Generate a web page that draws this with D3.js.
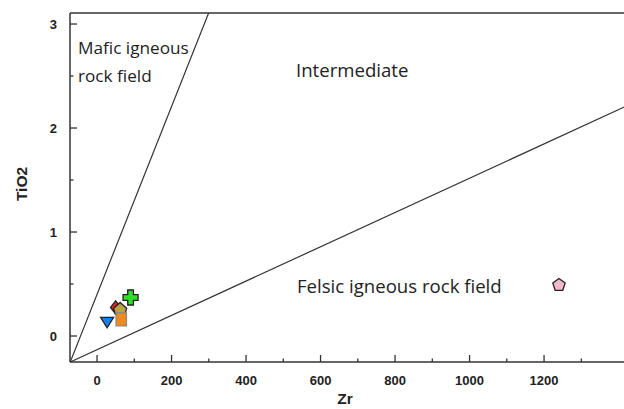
<!DOCTYPE html>
<html>
<head>
<meta charset="utf-8">
<script src="https://cdn.jsdelivr.net/npm/d3@7"></script>
<style>
    body { margin: 0; background: #fff; }
    svg { display: block; }
    .tick-label { font-family: "Liberation Sans", Arial, sans-serif; font-weight: bold; font-size: 13px; fill: #222; }
    .field-label { font-family: "Open Sans", Lato, sans-serif; font-size: 18.6px; fill: #222; }
    .field-label.small { font-size: 17.2px; }
    .axis-title { font-family: "Liberation Sans", Arial, sans-serif; font-weight: bold; font-size: 15.5px; fill: #222; }
</style>
</head>
<body>
<div id="chart"></div>
<script>
// Zr (ppm) vs TiO2 (wt%) samples
const sampleNames = ['S1', 'S2', 'S3', 'S4', 'S5', 'S6'];
const zrValues = [27, 50, 62, 65, 90, 1240];
const tio2Values = [0.135, 0.275, 0.26, 0.16, 0.37, 0.49];
const sampleShapes = ['triDown', 'diamond', 'house', 'square', 'cross', 'pentagon'];
const sampleColors = ['#1f7fe0', '#e0261e', '#b8a445', '#f08a1c', '#2fe02a', '#f4b8cc'];

// field boundary lines, [Zr, TiO2] end points
const mafLine = [[-72, -0.25], [300, 3.11]];
const felLine = [[-72, -0.25], [1420, 2.21]];

const xTicks = [0, 200, 400, 600, 800, 1000, 1200];
const xMinorTicks = [100, 300, 500, 700, 900, 1100, 1300];
const yTicks = [0, 1, 2, 3];
const yMinorTicks = [0.5, 1.5, 2.5];

const width = 624, height = 409;
const margin = { top: 13, right: -2, bottom: 47, left: 70 };

const svg = d3.select('#chart').append('svg')
    .attr('width', width)
    .attr('height', height);

const x = d3.scaleLinear()
    .domain([-72.6, 1420])
    .range([margin.left, width - margin.right]);
const y = d3.scaleLinear()
    .domain([-0.25, 3.106])
    .range([height - margin.bottom, margin.top]);

svg.append('defs').append('clipPath').attr('id', 'plot-clip')
    .append('rect')
    .attr('x', margin.left).attr('y', margin.top)
    .attr('width', width - margin.right - margin.left)
    .attr('height', height - margin.bottom - margin.top);

// frame: left, top, bottom
const axisColor = '#333';
svg.append('line')
    .attr('x1', x.range()[0]).attr('x2', x.range()[1])
    .attr('y1', y.range()[0]).attr('y2', y.range()[0])
    .attr('stroke', axisColor).attr('stroke-width', 1.5);
svg.append('line')
    .attr('x1', x.range()[0]).attr('x2', x.range()[1])
    .attr('y1', y.range()[1]).attr('y2', y.range()[1])
    .attr('stroke', axisColor).attr('stroke-width', 1.5);
svg.append('line')
    .attr('x1', x.range()[0]).attr('x2', x.range()[0])
    .attr('y1', y.range()[0]).attr('y2', y.range()[1])
    .attr('stroke', axisColor).attr('stroke-width', 1.5);

// x ticks (inward)
const xAxisY = y.range()[0];
svg.append('g').selectAll('line')
    .data(xTicks).join('line')
    .attr('x1', d => x(d)).attr('x2', d => x(d))
    .attr('y1', xAxisY).attr('y2', xAxisY - 7)
    .attr('stroke', axisColor).attr('stroke-width', 1.3);
svg.append('g').selectAll('line')
    .data(xMinorTicks).join('line')
    .attr('x1', d => x(d)).attr('x2', d => x(d))
    .attr('y1', xAxisY).attr('y2', xAxisY - 3.5)
    .attr('stroke', axisColor).attr('stroke-width', 1.3);
svg.append('g').selectAll('text')
    .data(xTicks).join('text')
    .attr('class', 'tick-label')
    .attr('x', d => x(d))
    .attr('y', xAxisY + 23)
    .attr('text-anchor', 'middle')
    .text(d => d);

// y ticks (inward)
const yAxisX = x.range()[0];
svg.append('g').selectAll('line')
    .data(yTicks).join('line')
    .attr('x1', yAxisX).attr('x2', yAxisX + 7)
    .attr('y1', d => y(d)).attr('y2', d => y(d))
    .attr('stroke', axisColor).attr('stroke-width', 1.3);
svg.append('g').selectAll('line')
    .data(yMinorTicks).join('line')
    .attr('x1', yAxisX).attr('x2', yAxisX + 3.5)
    .attr('y1', d => y(d)).attr('y2', d => y(d))
    .attr('stroke', axisColor).attr('stroke-width', 1.3);
svg.append('g').selectAll('text')
    .data(yTicks).join('text')
    .attr('class', 'tick-label')
    .attr('x', yAxisX - 13)
    .attr('y', d => y(d) + 5)
    .attr('text-anchor', 'end')
    .text(d => d);

// axis titles
svg.append('text')
    .attr('class', 'axis-title')
    .attr('x', 345)
    .attr('y', 404)
    .attr('text-anchor', 'middle')
    .text('Zr');
svg.append('text')
    .attr('class', 'axis-title')
    .attr('transform', 'translate(27, 184) rotate(-90)')
    .attr('text-anchor', 'middle')
    .text('TiO2');

// boundary lines
const line = d3.line().x(d => x(d[0])).y(d => y(d[1]));
const plot = svg.append('g').attr('clip-path', 'url(#plot-clip)');
[mafLine, felLine].forEach(pts => {
    plot.append('path')
        .attr('d', line(pts))
        .attr('fill', 'none')
        .attr('stroke', '#333')
        .attr('stroke-width', 1.2);
});

// field labels
svg.append('text').attr('class', 'field-label small')
    .attr('x', 78).attr('y', 54).text('Mafic igneous');
svg.append('text').attr('class', 'field-label small')
    .attr('x', 78).attr('y', 82).text('rock field');
svg.append('text').attr('class', 'field-label')
    .attr('x', 296).attr('y', 77).text('Intermediate');
svg.append('text').attr('class', 'field-label')
    .attr('x', 297).attr('y', 293).text('Felsic igneous rock field');

// symbols
function polygon(pts) {
    return 'M' + pts.map(p => p.join(',')).join('L') + 'Z';
}
function shapePath(kind, s) {
    switch (kind) {
        case 'triDown':
            return polygon([[-s, -s * 0.7], [s, -s * 0.7], [0, s * 0.9]]);
        case 'diamond':
            return polygon([[0, -s], [s * 0.8, 0], [0, s], [-s * 0.8, 0]]);
        case 'square':
            return polygon([[-s * 0.8, -s], [s * 0.8, -s], [s * 0.8, s], [-s * 0.8, s]]);
        case 'house':
            return polygon([[0, -s], [s, -s * 0.1], [s * 0.75, s * 0.8], [-s * 0.75, s * 0.8], [-s, -s * 0.1]]);
        case 'pentagon':
            return polygon(d3.range(5).map(i => {
                const a = -Math.PI / 2 + i * 2 * Math.PI / 5;
                return [s * Math.cos(a), s * Math.sin(a)];
            }));
        case 'cross': {
            const a = s * 0.38, b = s;
            return polygon([[-a, -b], [a, -b], [a, -a], [b, -a], [b, a], [a, a], [a, b], [-a, b],
                [-a, a], [-b, a], [-b, -a], [-a, -a]]);
        }
    }
}

const samples = sampleNames.map((n, i) => ({
    name: n, zr: zrValues[i], tio2: tio2Values[i],
    shape: sampleShapes[i], color: sampleColors[i]
}));

svg.append('g').selectAll('path')
    .data(samples).join('path')
    .attr('transform', d => `translate(${x(d.zr)},${y(d.tio2)})`)
    .attr('d', d => shapePath(d.shape, d.shape === 'cross' ? 7.5 : 6.5))
    .attr('fill', d => d.color)
    .attr('stroke', d => d.shape === 'square' ? '#888' : '#222')
    .attr('stroke-width', 1.3);
</script>
</body>
</html>
